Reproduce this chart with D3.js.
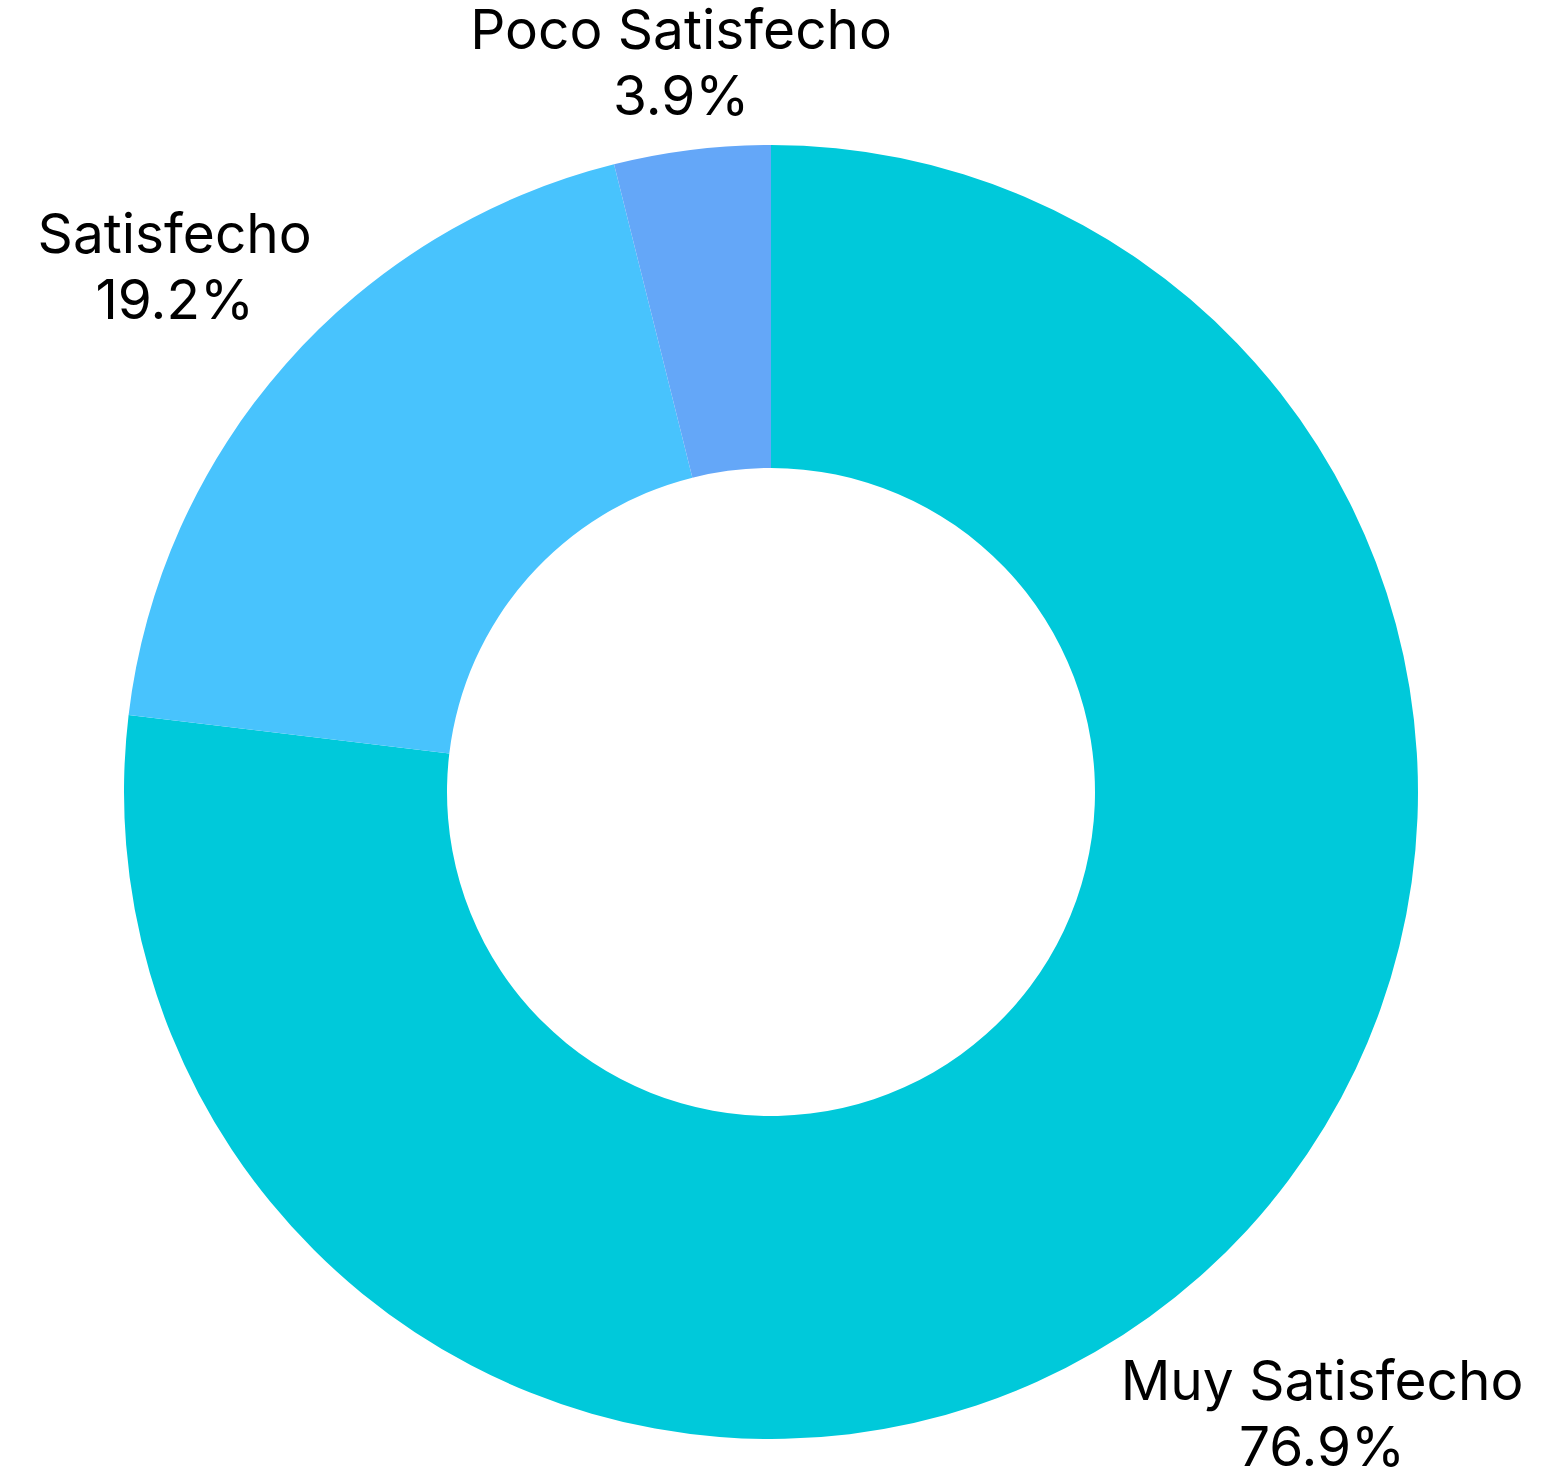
<!DOCTYPE html>
<html>
<head>
<meta charset="utf-8">
<script src="https://cdn.jsdelivr.net/npm/d3@7"></script>
<style>
  body { margin: 0; background: #fff; }
  svg { display: block; }
  .label { font-family: Inter, "Noto Sans", sans-serif; font-size: 55px; fill: #000; }
</style>
</head>
<body>
<svg id="chart" width="1563" height="1470"></svg>
<script>
var categories = ["Muy Satisfecho", "Satisfecho", "Poco Satisfecho"];
var values = [76.9, 19.2, 3.9];
var colors = ["#00C9DA", "#48C3FD", "#64A7F8"];

var width = 1563, height = 1470;
var cx = 771, cy = 792;
var outerR = 647, innerR = 324;
var gap = 10;
var fontSize = 55, lineH = 66, capH = 40;

var svg = d3.select("#chart");
var g = svg.append("g").attr("transform", "translate(" + cx + "," + cy + ")");

var data = categories.map(function(c, i) { return { name: c, value: values[i] }; });

var pie = d3.pie()
	.sort(null)
	.value(function(d) { return d.value; });

var arc = d3.arc()
	.innerRadius(innerR)
	.outerRadius(outerR);

var color = d3.scaleOrdinal()
	.domain(categories)
	.range(colors);

var arcs = pie(data);

g.selectAll(".slice")
	.data(arcs)
	.enter().append("path")
		.attr("class", "slice")
		.attr("d", arc)
		.attr("fill", function(d) { return color(d.data.name); });

// labels: name + percent, pushed out along the mid angle
var labels = g.selectAll(".label")
	.data(arcs)
	.enter().append("text")
		.attr("class", "label")
		.attr("text-anchor", "middle");

labels.append("tspan")
	.attr("x", 0)
	.attr("y", 0)
	.text(function(d) { return d.data.name; });

labels.append("tspan")
	.attr("x", 0)
	.attr("y", lineH)
	.text(function(d) { return d.data.value.toFixed(1) + "%"; });

labels.each(function(d) {
	var w = this.getBBox().width;
	var h = capH + lineH;           // cap top of line 1 to baseline of line 2
	var a = (d.startAngle + d.endAngle) / 2;
	var ux = Math.sin(a), uy = -Math.cos(a);
	var ext = Math.abs(ux) * w / 2 + Math.abs(uy) * h / 2;
	var dist = outerR + gap + ext;
	var tx = ux * dist;
	var ty = uy * dist - (lineH - capH) / 2;
	d3.select(this).attr("transform", "translate(" + tx + "," + ty + ")");
});
</script>
</body>
</html>
